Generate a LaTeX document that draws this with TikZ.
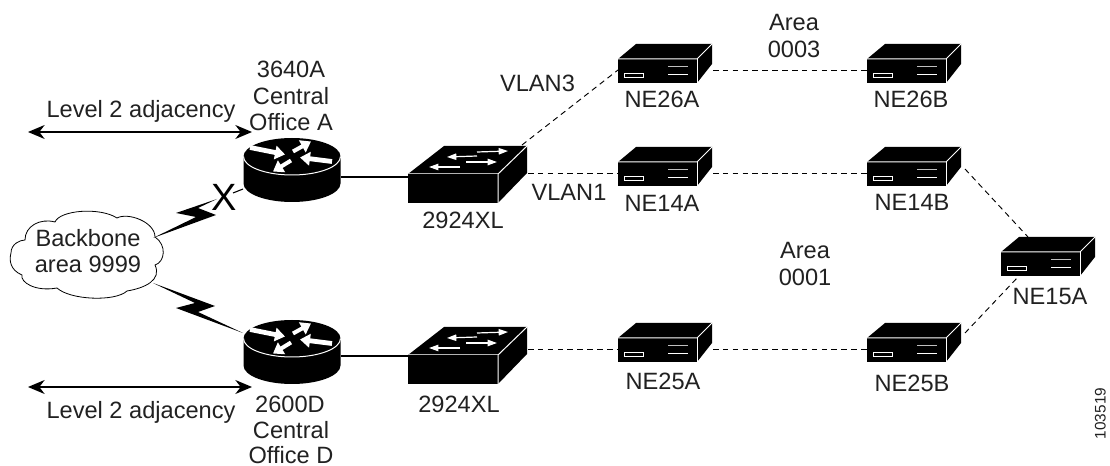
\documentclass[tikz,border=0pt]{standalone}
\usepackage{fontspec}
\setmainfont{Liberation Sans}
\usetikzlibrary{arrows.meta}
\definecolor{ink}{gray}{0.13}
\tikzset{
  x=0.75pt,y=-0.75pt,
  lbl/.style={anchor=base,inner sep=0pt,outer sep=0pt,text=ink,font=\fontsize{17.7pt}{20pt}\selectfont},
  dashlink/.style={black,line width=0.7pt,dash pattern=on 4.2pt off 3.2pt},
  solidlink/.style={black,line width=0.8pt},
  adjarrow/.style={black,line width=0.9pt,{Stealth[length=12.5pt,width=10.5pt,inset=4pt]}-{Stealth[length=12.5pt,width=10.5pt,inset=4pt]}},
  facet/.style={white,line width=0.75pt},
  rarrow/.style={white,line width=#1,-{Triangle[length=7.5pt,width=10pt]},shorten >=0pt},
  swarrow/.style={white,line width=0.9pt,-{Triangle[length=7pt,width=4.8pt]}},
  nebox/.pic={
    \fill[black] (0,0) -- (18,-15) -- (94,-15) -- (94,5) -- (79,24) -- (0,24) -- cycle;
    \draw[facet] (0,0) -- (79,0) -- (94,-15);
    \draw[facet] (79,0) -- (79,24);
    \draw[white,line width=0.6pt,fill=black] (6.5,14) rectangle (25,18);
    \draw[white!75!black,line width=0.75pt] (50,7.5) -- (70,7.5);
    \draw[white,line width=0.75pt] (50,16) -- (70,16);
  },
  swbox/.pic={
    \fill[black] (0,0) -- (36,-28) -- (119,-28) -- (119,-1) -- (90,29) -- (0,29) -- cycle;
    \draw[white!70!black,line width=0.75pt] (0,0) -- (90,0);
    \draw[facet] (90,29) -- (90,0) -- (119,-28);
    \draw[swarrow] (69,-22) -- (100,-23);
    \draw[swarrow] (69,-18) -- (39,-17);
    \draw[swarrow] (58,-12) -- (89,-12);
    \draw[swarrow] (52,-7) -- (21,-7);
  },
  routerbox/.pic={
    \fill[black] (-48.5,0)
      .. controls (-48.5,-10.2) and (-26.8,-18.5) .. (0,-18.5)
      .. controls (26.8,-18.5) and (48.5,-10.2) .. (48.5,0)
      -- (48.5,27)
      .. controls (48.5,37.2) and (26.8,45.5) .. (0,45.5)
      .. controls (-26.8,45.5) and (-48.5,37.2) .. (-48.5,27) -- cycle;
    \draw[white,line width=0.75pt] (-48.5,0)
      .. controls (-48.5,10.2) and (-26.8,18.5) .. (0,18.5)
      .. controls (26.8,18.5) and (48.5,10.2) .. (48.5,0);
    \draw[rarrow=3.6pt] (-42,-9) -- (-7,-2);
    \draw[rarrow=3pt] (1,-5) -- (19,-15);
    \draw[rarrow=3.6pt] (40,5) -- (8,1);
    \draw[rarrow=3pt] (-1,4) -- (-19,15);
  }
}
\begin{document}
\begin{tikzpicture}
\useasboundingbox (0,0) rectangle (1110,466);
% cloud
\draw[black,line width=0.6pt,fill=white] (11,253)
  .. controls (11,244) and (20,240) .. (25,240)
  .. controls (25,226) and (40,218) .. (55,222)
  .. controls (60,210) and (100,207) .. (117,218)
  .. controls (128,212) and (155,222) .. (155,237)
  .. controls (167,245) and (165,262) .. (155,265)
  .. controls (162,280) and (145,288) .. (127,291)
  .. controls (115,302) and (70,300) .. (57,288)
  .. controls (35,292) and (20,282) .. (22,275)
  .. controls (10,270) and (9,260) .. (11,253) -- cycle;
\coordinate (cloudU) at (153,238);
\coordinate (cloudL) at (153,283);
\coordinate (rAw) at (243,189);
\coordinate (rDw) at (243,333);
% devices
\pic at (292,156.5) {routerbox};
\pic at (292,338.5) {routerbox};
\pic at (408,174) {swbox};
\pic at (408,355) {swbox};
\pic at (618,59) {nebox};
\pic at (867,59) {nebox};
\pic at (618,162) {nebox};
\pic at (867,162) {nebox};
\pic at (618,338) {nebox};
\pic at (867,338) {nebox};
\pic at (1001,252) {nebox};
% ports
\coordinate (rAe) at (341,177);
\coordinate (swAw) at (408,177);
\coordinate (rDe) at (341,356);
\coordinate (swDw) at (408,356);
\coordinate (swAne) at (522,145);
\coordinate (swAe) at (528,173);
\coordinate (swDe) at (528,349);
\coordinate (n26Aw) at (618,70);
\coordinate (n26Ae) at (713,70);
\coordinate (n26Bw) at (867,70);
\coordinate (n14Aw) at (618,173);
\coordinate (n14Ae) at (713,173);
\coordinate (n14Bw) at (867,173);
\coordinate (n14Be) at (965,169);
\coordinate (n15An) at (1028,237);
\coordinate (n15As) at (1018,277);
\coordinate (n25Be) at (965,333);
\coordinate (n25Aw) at (618,349);
\coordinate (n25Ae) at (713,349);
\coordinate (n25Bw) at (867,349);
% links
\draw[solidlink] (rAe) -- (swAw);
\draw[solidlink] (rDe) -- (swDw);
\draw[dashlink] (swAne) -- (n26Aw);
\draw[dashlink] (n26Ae) -- (n26Bw);
\draw[dashlink] (swAe) -- (n14Aw);
\draw[dashlink] (n14Ae) -- (n14Bw);
\draw[dashlink] (swDe) -- (n25Aw);
\draw[dashlink] (n25Ae) -- (n25Bw);
\draw[dashlink] (n14Be) -- (n15An);
\draw[dashlink] (n25Be) -- (n15As);
% WAN bolts
\fill[black] (cloudU) -- (216,215) -- (198,208) -- (217,199) -- (176,213) -- (196,217) -- cycle;
\draw[solidlink] (233,193) -- (rAw);
\fill[black] (cloudL) -- (215,306) -- (198,312) -- (rDw) -- (176,308) -- (195,303) -- cycle;
\node[anchor=base,inner sep=0pt,text=black,font=\fontsize{28.5pt}{30pt}\selectfont] (xmark) at (224,211) {X};
% adjacency arrows
\coordinate (adjUw) at (28,132);
\coordinate (adjUe) at (252,132);
\coordinate (adjLw) at (28,387);
\coordinate (adjLe) at (252,387);
\draw[adjarrow] (adjUw) -- (adjUe);
\draw[adjarrow] (adjLw) -- (adjLe);
% labels
\node[lbl] (tAdjU) at (141,118) {Level 2 adjacency};
\node[lbl] (tAdjL) at (141,419) {Level 2 adjacency};
\node[lbl] (t3640) at (291,78) {3640A};
\node[lbl] (tCenA) at (291,104.5) {Central};
\node[lbl] (tOffA) at (291,131) {Office A};
\node[lbl] (t2600) at (290,412) {2600D};
\node[lbl] (tCenD) at (291,438) {Central};
\node[lbl] (tOffD) at (291,463) {Office D};
\node[lbl] (tBack) at (88,247) {Backbone};
\node[lbl] (tArea9) at (88,273) {area 9999};
\node[lbl] (tSwA) at (463,229) {2924XL};
\node[lbl] (tSwD) at (459,412) {2924XL};
\node[lbl] (tV3) at (537.5,92) {VLAN3};
\node[lbl] (tV1) at (569,201) {VLAN1};
\node[lbl] (tN26A) at (662,108) {NE26A};
\node[lbl] (tN26B) at (911,108) {NE26B};
\node[lbl] (tN14A) at (662,212) {NE14A};
\node[lbl] (tN14B) at (912,211) {NE14B};
\node[lbl] (tN15A) at (1050,305) {NE15A};
\node[lbl] (tN25A) at (663,390) {NE25A};
\node[lbl] (tN25B) at (912,392) {NE25B};
\node[lbl] (tA3a) at (794,31) {Area};
\node[lbl] (tA3b) at (794,58) {0003};
\node[lbl] (tA1a) at (805,259) {Area};
\node[lbl] (tA1b) at (805,286) {0001};
\node[lbl,font=\fontsize{11.5pt}{13pt}\selectfont,rotate=90] (tId) at (1105.5,413.5) {103519};
\end{tikzpicture}
\end{document}
